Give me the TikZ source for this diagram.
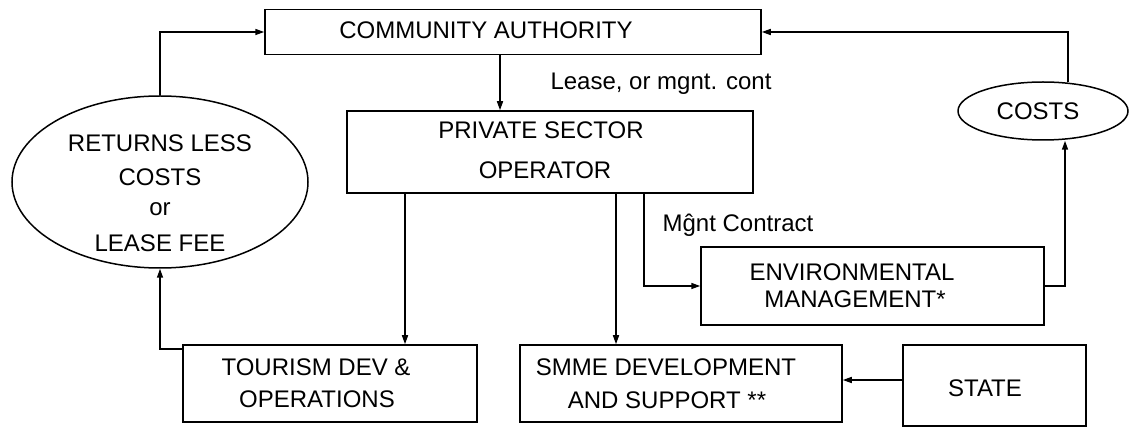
\documentclass[tikz,border=0pt]{standalone}
\usepackage{fontspec}
\setmainfont{Liberation Sans}
\usetikzlibrary{arrows.meta,shapes.geometric}
\begin{document}
\begin{tikzpicture}[x=1pt,y=-1pt,
  line width=1.5pt,
  box/.style={draw, rectangle, inner sep=0pt},
  oval/.style={draw, ellipse, inner sep=0pt},
  txt/.style={inner sep=0pt, font=\fontsize{24}{29}\selectfont},
  arr/.style={-{Triangle[length=9pt,width=6pt]}}]
\useasboundingbox (0,0) rectangle (1132,427);
% boxes
\node[box, minimum width=496pt, minimum height=45pt] (ca) at (513,32) {};
\node[box, minimum width=406pt, minimum height=82pt] (pso) at (550,152) {};
\node[oval, minimum width=296pt, minimum height=172pt] (ret) at (160,182) {};
\node[oval, minimum width=170pt, minimum height=58pt] (costs) at (1043,111) {};
\node[box, minimum width=343pt, minimum height=78pt] (env) at (872.5,286) {};
\node[box, minimum width=294pt, minimum height=77pt] (tour) at (330,383.5) {};
\node[box, minimum width=322pt, minimum height=77pt] (smme) at (681,383.5) {};
\node[box, minimum width=183pt, minimum height=81pt] (state) at (994.5,385.5) {};
% texts
\node[txt] (tca) at (486,30) {COMMUNITY AUTHORITY};
\node[txt] (tpso1) at (541,130) {PRIVATE SECTOR};
\node[txt] (tpso2) at (545,170) {OPERATOR};
\node[txt] (tret1) at (160,143) {RETURNS LESS};
\node[txt] (tret2) at (160,177) {COSTS};
\node[txt] (tret3) at (160,209) {or};
\node[txt] (tret4) at (160,243) {LEASE FEE};
\node[txt] (tcosts) at (1038,111) {COSTS};
\node[txt] (tenv1) at (852,272) {ENVIRONMENTAL};
\node[txt] (tenv2) at (855,299) {MANAGEMENT*};
\node[txt] (ttour1) at (316,367) {TOURISM DEV \&};
\node[txt] (ttour2) at (317,399) {OPERATIONS};
\node[txt] (tsmme1) at (666,367) {SMME DEVELOPMENT};
\node[txt] (tsmme2) at (667,400) {AND SUPPORT **};
\node[txt] (tstate) at (985,388) {STATE};
\node[txt] (tlease) at (661,84) {Lease, or mgnt. cont};
\node[txt] (tmgnt) at (738,225) {Mĝnt Contract};
% helper coordinates
\coordinate (x1) at (500,0);
\coordinate (x2) at (405,0);
\coordinate (x3) at (616,0);
\coordinate (x4) at (644,0);
\coordinate (y5) at (0,380);
% connectors
\draw[arr] (ret.north) |- (ca.west);
\draw[arr] (ca.south -| x1) -- (pso.north -| x1);
\draw[arr] (pso.south -| x2) -- (tour.north -| x2);
\draw[arr] (pso.south -| x3) -- (smme.north -| x3);
\draw[arr] (pso.south -| x4) |- (env.west);
\draw[arr] ([yshift=-5pt]tour.north west) -| (ret.south);
\draw[arr] (env.east) -| ([xshift=22pt]costs.south);
\draw[arr] ([xshift=25pt,yshift=-1pt]costs.north) |- (ca.east);
\draw[arr] (state.west |- y5) -- (smme.east |- y5);
\end{tikzpicture}
\end{document}
